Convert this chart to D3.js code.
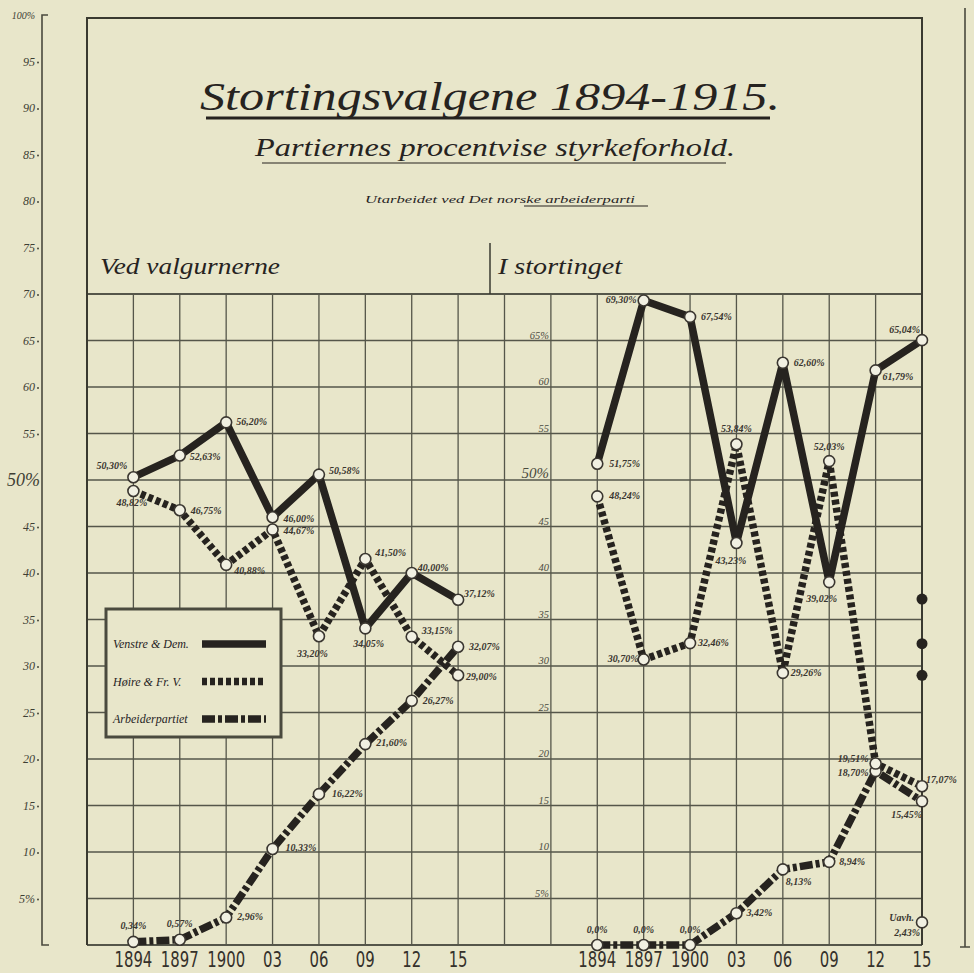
<!DOCTYPE html>
<html><head><meta charset="utf-8">
<script src="https://cdn.jsdelivr.net/npm/d3@7"></script>
<style>html,body{margin:0;padding:0;background:#e8e6ca;}svg{display:block;}</style>
</head><body>
<script>
// ---------- DATA ----------
const years = ["1894","1897","1900","03","06","09","12","15"];
const seriesNames = ["Venstre & Dem.", "Høire & Fr. V.", "Arbeiderpartiet"];

// Ved valgurnerne (votes, %)
const votesVenstre = [50.30, 52.63, 56.20, 46.00, 50.58, 34.05, 40.00, 37.12];
const votesHoire   = [48.82, 46.75, 40.88, 44.67, 33.20, 41.50, 33.15, 29.00];
const votesArb     = [0.34, 0.57, 2.96, 10.33, 16.22, 21.60, 26.27, 32.07];

// I stortinget (seats, %)
const seatsVenstre = [51.75, 69.30, 67.54, 43.23, 62.60, 39.02, 61.79, 65.04];
const seatsHoire   = [48.24, 30.70, 32.46, 53.84, 29.26, 52.03, 19.51, 17.07];
const seatsArb     = [0.0, 0.0, 0.0, 3.42, 8.13, 8.94, 18.70, 15.45];
const uavhValue = 2.43;
const sideDots = [37.2, 32.4, 29.0];

const outerTicks = [100,95,90,85,80,75,70,65,60,55,50,45,40,35,30,25,20,15,10,5];
const innerTicks = [65,60,55,50,45,40,35,30,25,20,15,10,5];

// label placement offsets [dx, dy, anchor]
const offVV = [[-37,-8,"start"],[10,4,"start"],[10,3,"start"],[11,5,"start"],[10,-1,"start"],[-12,19,"start"],[6,-2,"start"],[6,-3,"start"]];
const offVH = [[-17,15,"start"],[11,4,"start"],[8,9,"start"],[11,4,"start"],[-22,21,"start"],[10,-3,"start"],[10,-3,"start"],[8,5,"start"]];
const offVA = [[0,-13,"middle"],[0,-13,"middle"],[11,3,"start"],[13,2,"start"],[13,3,"start"],[11,2,"start"],[11,3,"start"],[11,3,"start"]];
const offSV = [[12,3,"start"],[-7,2,"end"],[11,3,"start"],[-21,21,"start"],[11,3,"start"],[-23,20,"start"],[7,10,"start"],[-2,-7,"end"]];
const offSH = [[12,3,"start"],[-5,3,"end"],[8,3,"start"],[0,-12,"middle"],[8,3,"start"],[0,-11,"middle"],[-7,-2,"end"],[4,-3,"start"]];
const offSA = [[0,-12,"middle"],[0,-12,"middle"],[0,-12,"middle"],[10,3,"start"],[3,16,"start"],[10,3,"start"],[-7,5,"end"],[0,17,"end"]];

// ---------- SETUP ----------
const W = 974, H = 973;
const ink = "#26231f", grid = "#55564a", bg = "#e8e6ca", pointFill = "#f1f0e2";
const svg = d3.select("body").append("svg").attr("width", W).attr("height", H);
svg.append("rect").attr("width", W).attr("height", H).attr("fill", bg);

const col = d3.scaleLinear().domain([0, 18]).range([87, 922]);
const y = d3.scaleLinear().domain([0, 100]).range([945, 15]);
const xLeft = i => col(i + 1);
const xRight = i => col(i + 11);

const fmt = v => v.toFixed(2).replace(".", ",") + "%";
const fmtSeat = v => v === 0 ? "0,0%" : fmt(v);

// ---------- GRID ----------
const g = svg.append("g");
d3.range(0, 71, 5).forEach(v => {
  g.append("line").attr("x1", col(0)).attr("x2", col(18)).attr("y1", y(v)).attr("y2", y(v))
   .attr("stroke", grid).attr("stroke-width", v === 0 || v === 70 ? 1.8 : 1.3);
});
d3.range(0, 19).forEach(i => {
  g.append("line").attr("x1", col(i)).attr("x2", col(i)).attr("y1", y(70)).attr("y2", y(0))
   .attr("stroke", grid).attr("stroke-width", 1.3);
});
// frame
svg.append("path").attr("d", `M${col(0)},${y(0)} V18 H${col(18)} V${y(0)}`)
  .attr("fill", "none").attr("stroke", "#3a3a30").attr("stroke-width", 2);
// header separator
svg.append("line").attr("x1", 490).attr("x2", 490).attr("y1", 243).attr("y2", y(70))
  .attr("stroke", "#3a3a30").attr("stroke-width", 1.5);

// outer left axis
svg.append("path").attr("d", `M48,${y(100)} H42 V${y(0)} H49`).attr("fill", "none")
  .attr("stroke", "#4a4a3e").attr("stroke-width", 1.6);
outerTicks.forEach(v => {
  const big = v === 50;
  svg.append("text").attr("x", big ? 40 : 35).attr("y", y(v) + (big ? 6 : 4))
    .attr("text-anchor", "end").attr("font-family", "Liberation Serif").attr("font-style", "italic")
    .attr("font-size", big ? 18 : (v === 100 ? 10 : 12)).attr("fill", "#3e3e34")
    .text(v === 100 || v === 50 || v === 5 ? v + "%" : v);
  if (!big && v !== 100) svg.append("circle").attr("cx", 38).attr("cy", y(v) + 1).attr("r", 1).attr("fill", "#4a4a3e");
});
// outer right axis
svg.append("path").attr("d", `M965,8 V${y(0) + 2} M960,${y(0) + 2} H970`).attr("fill", "none")
  .attr("stroke", "#4a4a3e").attr("stroke-width", 1.6);

// inner right-panel axis labels
innerTicks.forEach(v => {
  svg.append("text").attr("x", col(10) - 2).attr("y", y(v) - 2).attr("text-anchor", "end")
    .attr("font-family", "Liberation Serif").attr("font-style", "italic")
    .attr("font-size", v === 50 ? 15 : 10.5).attr("fill", "#4a4a3e")
    .text(v === 65 || v === 50 || v === 5 ? v + "%" : v);
});

// x labels
years.forEach((yr, i) => {
  [xLeft(i), xRight(i)].forEach(x => {
    svg.append("text").attr("x", x).attr("y", 967).attr("text-anchor", "middle")
      .attr("font-family", "DejaVu Sans Condensed").attr("font-size", 18).attr("fill", "#35312b")
      .attr("transform", `translate(${x},967) scale(0.92,1.2) translate(${-x},-967)`)
      .text(yr);
  });
});

// ---------- TITLES ----------
const serif = "Liberation Serif";
svg.append("text").attr("x", 490).attr("y", 110).attr("text-anchor", "middle")
  .attr("font-family", serif).attr("font-style", "italic").attr("font-size", 40).attr("fill", ink)
  .attr("textLength", 580).attr("lengthAdjust", "spacingAndGlyphs").text("Stortingsvalgene 1894-1915.");
svg.append("line").attr("x1", 206).attr("x2", 770).attr("y1", 118).attr("y2", 118).attr("stroke", ink).attr("stroke-width", 3);
svg.append("text").attr("x", 495).attr("y", 156).attr("text-anchor", "middle")
  .attr("font-family", serif).attr("font-style", "italic").attr("font-size", 25).attr("fill", ink)
  .attr("textLength", 480).attr("lengthAdjust", "spacingAndGlyphs").text("Partiernes procentvise styrkeforhold.");
svg.append("line").attr("x1", 262).attr("x2", 726).attr("y1", 163).attr("y2", 163).attr("stroke", ink).attr("stroke-width", 1.2);
svg.append("text").attr("x", 500).attr("y", 203).attr("text-anchor", "middle")
  .attr("font-family", serif).attr("font-style", "italic").attr("font-size", 11).attr("fill", ink)
  .attr("textLength", 270).attr("lengthAdjust", "spacingAndGlyphs").text("Utarbeidet ved Det norske arbeiderparti");
svg.append("line").attr("x1", 524).attr("x2", 648).attr("y1", 206).attr("y2", 206).attr("stroke", ink).attr("stroke-width", 1);

svg.append("text").attr("x", 100).attr("y", 274).attr("font-family", serif).attr("font-style", "italic")
  .attr("font-size", 24).attr("fill", ink).attr("textLength", 180).attr("lengthAdjust", "spacingAndGlyphs").text("Ved valgurnerne");
svg.append("text").attr("x", 498).attr("y", 274).attr("font-family", serif).attr("font-style", "italic")
  .attr("font-size", 24).attr("fill", ink).attr("textLength", 124).attr("lengthAdjust", "spacingAndGlyphs").text("I stortinget");

// ---------- LEGEND ----------
const lg = svg.append("g");
lg.append("rect").attr("x", 106).attr("y", 609).attr("width", 175).attr("height", 128)
  .attr("fill", bg).attr("stroke", "#4a4a3e").attr("stroke-width", 3);

const styles = [
  { dash: null },
  { dash: "5 3" },
  { dash: "13 3 4 3" }
];
seriesNames.forEach((name, k) => {
  const yy = 644 + k * 37.5;
  lg.append("text").attr("x", 113).attr("y", yy + 4).attr("font-family", serif).attr("font-style", "italic")
    .attr("font-size", 12).attr("fill", ink).text(name);
  lg.append("line").attr("x1", 202).attr("x2", 266).attr("y1", yy).attr("y2", yy)
    .attr("stroke", ink).attr("stroke-width", 7.5).attr("stroke-dasharray", styles[k].dash);
});

// ---------- SERIES ----------
function drawSeries(vals, xf, k) {
  const line = d3.line().x((d, i) => xf(i)).y(d => y(d));
  svg.append("path").datum(vals).attr("d", line).attr("fill", "none").attr("stroke", ink)
    .attr("stroke-width", 7.5).attr("stroke-linejoin", "round").attr("stroke-dasharray", styles[k].dash);
}
function drawPoints(vals, xf, offs, fmtF) {
  vals.forEach((v, i) => {
    svg.append("circle").attr("cx", xf(i)).attr("cy", y(v)).attr("r", 5.5)
      .attr("fill", pointFill).attr("stroke", "#3a3630").attr("stroke-width", 1.6);
    const o = offs[i];
    svg.append("text").attr("x", xf(i) + o[0]).attr("y", y(v) + o[1]).attr("text-anchor", o[2])
      .attr("font-family", serif).attr("font-style", "italic").attr("font-weight", "bold")
      .attr("font-size", 10).attr("fill", "#3a3630").text(fmtF(v));
  });
}
drawSeries(votesArb, xLeft, 2);
drawSeries(votesHoire, xLeft, 1);
drawSeries(votesVenstre, xLeft, 0);
drawSeries(seatsArb, xRight, 2);
drawSeries(seatsHoire, xRight, 1);
drawSeries(seatsVenstre, xRight, 0);

drawPoints(votesArb, xLeft, offVA, fmt);
drawPoints(votesHoire, xLeft, offVH, fmt);
drawPoints(votesVenstre, xLeft, offVV, fmt);
drawPoints(seatsArb, xRight, offSA, fmtSeat);
drawPoints(seatsHoire, xRight, offSH, fmt);
drawPoints(seatsVenstre, xRight, offSV, fmt);

// Uavh. point
const ux = xRight(7), uy = y(uavhValue);
svg.append("circle").attr("cx", ux).attr("cy", uy).attr("r", 5.5).attr("fill", pointFill)
  .attr("stroke", "#3a3630").attr("stroke-width", 1.6);
svg.append("text").attr("x", ux - 8).attr("y", uy - 1).attr("text-anchor", "end").attr("font-family", serif)
  .attr("font-style", "italic").attr("font-weight", "bold").attr("font-size", 10).attr("fill", "#3a3630").text("Uavh.");
svg.append("text").attr("x", ux - 2).attr("y", uy + 14).attr("text-anchor", "end").attr("font-family", serif)
  .attr("font-style", "italic").attr("font-weight", "bold").attr("font-size", 10).attr("fill", "#3a3630").text(fmt(uavhValue));

// side dots
sideDots.forEach(v => {
  svg.append("circle").attr("cx", xRight(7)).attr("cy", y(v)).attr("r", 5.5).attr("fill", ink);
});
</script>
</body></html>
